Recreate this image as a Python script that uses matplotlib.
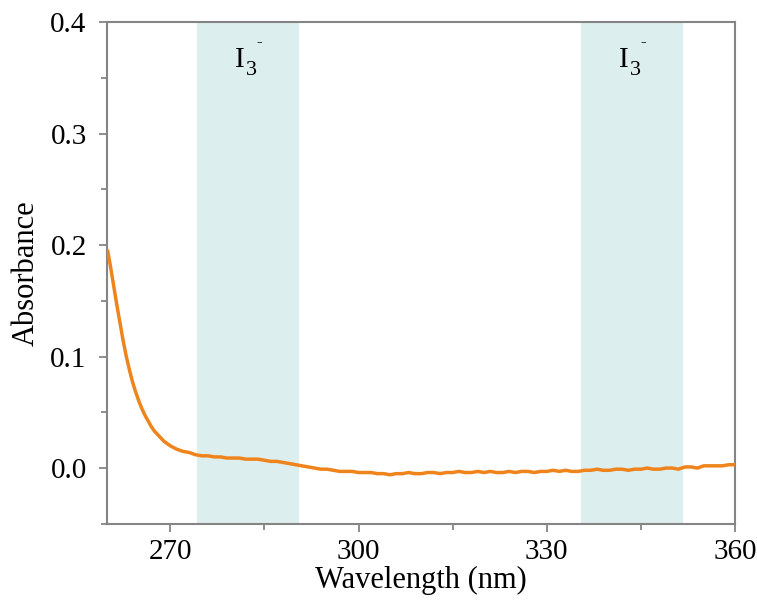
import matplotlib
matplotlib.use("Agg")
import matplotlib.pyplot as plt
from matplotlib.ticker import MultipleLocator

plt.rcParams['font.family'] = ['Liberation Serif', 'DejaVu Serif']

# Absorbance spectrum: 0.5 nm steps over the steep edge, 1 nm steps afterwards
wavelength = ([260.0, 260.5, 261.0, 261.5, 262.0, 262.5, 263.0, 263.5, 264.0, 264.5,
               265.0, 265.5, 266.0, 266.5, 267.0, 267.5, 268.0, 268.5, 269.0, 269.5]
              + list(range(270, 361)))
absorbance = [
    0.196, 0.180, 0.163, 0.146, 0.130, 0.114, 0.100, 0.088, 0.077, 0.068,  # 260-264.5
    0.060, 0.053, 0.047, 0.042, 0.037, 0.033, 0.030, 0.027, 0.024, 0.022,  # 265-269.5
    0.020, 0.017, 0.015, 0.014, 0.012, 0.011, 0.011, 0.010, 0.010, 0.009,  # 270-279
    0.009, 0.009, 0.008, 0.008, 0.008, 0.007, 0.006, 0.006, 0.005, 0.004,  # 280-289
    0.003, 0.002, 0.001, 0.000, -0.001, -0.001, -0.002, -0.003, -0.003, -0.003,  # 290-299
    -0.004, -0.004, -0.004, -0.005, -0.005, -0.006, -0.005, -0.005, -0.004, -0.005,  # 300-309
    -0.005, -0.004, -0.004, -0.005, -0.004, -0.004, -0.003, -0.004, -0.004, -0.003,  # 310-319
    -0.004, -0.003, -0.004, -0.004, -0.003, -0.004, -0.003, -0.003, -0.004, -0.003,  # 320-329
    -0.003, -0.002, -0.003, -0.002, -0.003, -0.003, -0.002, -0.002, -0.001, -0.002,  # 330-339
    -0.002, -0.001, -0.001, -0.002, -0.001, -0.001, 0.000, -0.001, -0.001, 0.000,  # 340-349
    0.000, -0.001, 0.001, 0.001, 0.000, 0.002, 0.002, 0.002, 0.002, 0.003, 0.003,  # 350-360
]

# Highlighted I3- absorption regions (nm)
band_starts = [274.2, 335.4]
band_ends = [290.5, 351.7]
band_species = [('I', '3', '-'), ('I', '3', '-')]

fig = plt.figure(figsize=(7.57, 6.0), dpi=100)
ax = fig.add_axes([0.142, 0.127, 0.829, 0.836])

for x0, x1, (base, sub, sup) in zip(band_starts, band_ends, band_species):
    ax.axvspan(x0, x1, color='#ddeeee', lw=0, zorder=0)
    # species label: symbol, subscript count and charge drawn as separate pieces
    anchor = ((x0 + x1) / 2 - 2.1, 0.3597)
    ax.annotate(base, xy=anchor, ha='left', va='baseline', fontsize=21)
    ax.annotate(sub, xy=anchor, xytext=(8, -5.8), textcoords='offset points',
                ha='left', va='baseline', fontsize=16)
    ax.annotate(sup, xy=anchor, xytext=(17.6, 15), textcoords='offset points',
                ha='center', va='baseline', fontsize=12)

ax.plot(wavelength, absorbance, color='#f0841c', lw=2.5, zorder=3,
        solid_joinstyle='round', solid_capstyle='butt')

ax.set_xlim(260, 360)
ax.set_ylim(-0.05, 0.4)
ax.set_xticks([270, 300, 330, 360])
ax.xaxis.set_minor_locator(MultipleLocator(15))
ax.yaxis.set_major_locator(MultipleLocator(0.1))
ax.yaxis.set_minor_locator(MultipleLocator(0.05))

spine_col = '#858585'
for s in ax.spines.values():
    s.set_color(spine_col)
    s.set_linewidth(1.5)
ax.tick_params(which='both', direction='out', color=spine_col, width=1.3,
               labelsize=21, top=False, right=False)
ax.tick_params(which='major', length=6)
ax.tick_params(which='minor', length=4)
ax.tick_params(axis='x', which='major', pad=5)
ax.tick_params(axis='y', which='major', pad=9)

ax.set_xlabel('Wavelength (nm)', fontsize=22)
ax.set_ylabel('Absorbance', fontsize=22)
ax.xaxis.set_label_coords(0.5, -0.084)
ax.yaxis.set_label_coords(-0.107, 0.5)

fig.savefig('out.png', dpi=100)
